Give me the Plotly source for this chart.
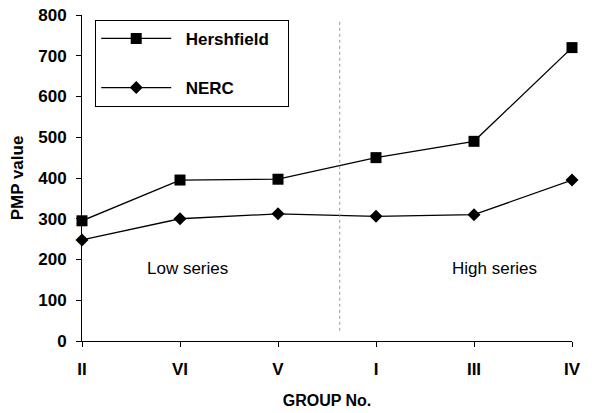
import plotly.graph_objects as go

groups = ["II", "VI", "V", "I", "III", "IV"]
hershfield = [295, 395, 397, 450, 490, 720]
nerc = [248, 300, 312, 306, 310, 395]
y_ticks = [0, 100, 200, 300, 400, 500, 600, 700, 800]

xs = list(range(len(groups)))
fam = "Liberation Sans"
lead = "\u00a0\u00a0"
trail = "\u00a0\u00a0\u00a0"

fig = go.Figure()
fig.add_trace(go.Scatter(x=xs, y=hershfield, mode="lines+markers",
                         name=lead + "<b>Hershfield</b>" + trail,
                         legendgroup="h",
                         line=dict(color="black", width=1.3),
                         marker=dict(symbol="square", size=11, color="black"),
                         cliponaxis=False))
fig.add_trace(go.Scatter(x=xs, y=nerc, mode="lines+markers",
                         name=lead + "<b>NERC</b>",
                         legendgroup="n",
                         line=dict(color="black", width=1.3),
                         marker=dict(symbol="diamond", size=10, color="black"),
                         cliponaxis=False))

fig.add_shape(type="line", xref="x", yref="y", x0=2.63, x1=2.63, y0=25, y1=790,
              line=dict(color="#999", width=1, dash="dot"))

fig.add_annotation(x=1.08, y=179, text="Low series", showarrow=False,
                   font=dict(family=fam, size=17, color="black"))
fig.add_annotation(x=4.21, y=179, text="High series", showarrow=False,
                   font=dict(family=fam, size=17, color="black"))

fig.update_layout(
    width=610, height=413,
    margin=dict(l=82, r=38, t=15, b=72),
    plot_bgcolor="white", paper_bgcolor="white",
    showlegend=True,
    legend=dict(x=0.027, y=0.985, xanchor="left", yanchor="top",
                bordercolor="black", borderwidth=1, bgcolor="white",
                font=dict(family=fam, size=17, color="black"),
                itemwidth=70, tracegroupgap=24),
    font=dict(family=fam, color="black"),
)
fig.update_xaxes(
    range=[0, 5], tickvals=xs, ticktext=["<b>%s</b>" % g for g in groups],
    showline=True, linecolor="black", linewidth=1, showgrid=False, zeroline=False,
    ticks="outside", ticklen=5, tickcolor="black", ticklabelstandoff=8,
    tickfont=dict(family=fam, size=17, color="black"), automargin=False,
    title=dict(text="<b>GROUP No.</b>", font=dict(family=fam, size=16, color="black"), standoff=16),
)
fig.update_yaxes(
    range=[0, 800], tickvals=y_ticks, ticktext=["<b>%d</b>" % v for v in y_ticks],
    showline=True, linecolor="black", linewidth=1, showgrid=False, zeroline=False,
    ticks="outside", ticklen=5, tickcolor="black", ticklabelstandoff=6,
    tickfont=dict(family=fam, size=17, color="black"), automargin=False,
    title=dict(text="<b>PMP value</b>", font=dict(family=fam, size=17, color="black"), standoff=10),
)

fig.write_html("out.html", config={"displayModeBar": False},
               post_script="document.body.style.margin='0';")
